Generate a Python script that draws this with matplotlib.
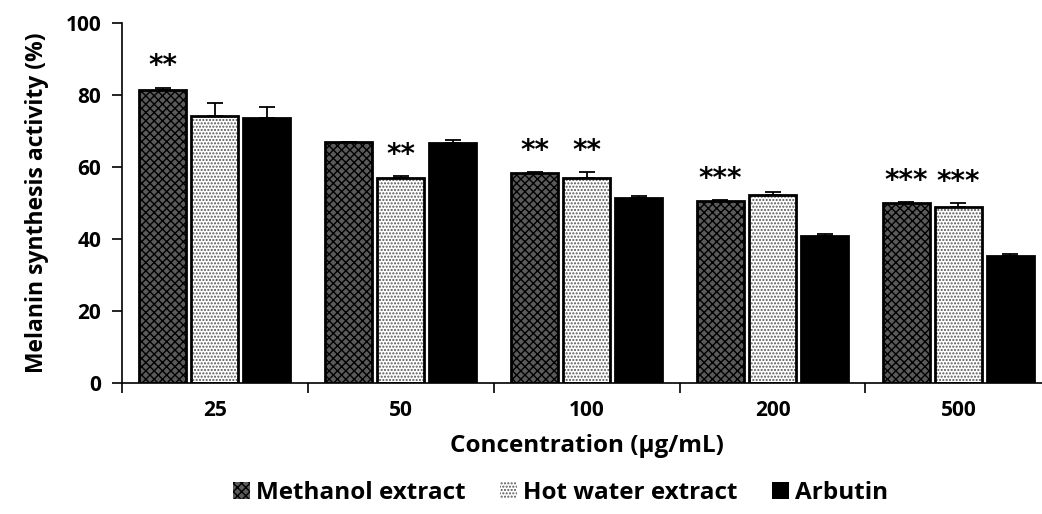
import matplotlib.pyplot as plt
import numpy as np

plt.rcParams['font.family'] = ['Open Sans', 'DejaVu Sans']
plt.rcParams['font.weight'] = 'bold'
plt.rcParams['hatch.linewidth'] = 1.0

concentrations = ['25', '50', '100', '200', '500']
series = ['Methanol extract', 'Hot water extract', 'Arbutin']
methanol = [81.5, 67.0, 58.3, 50.5, 49.9]
methanol_err = [0.6, 0.0, 0.2, 0.3, 0.3]
hot_water = [74.2, 57.0, 57.0, 52.2, 48.9]
hot_water_err = [3.6, 0.5, 1.5, 0.8, 1.1]
arbutin = [73.7, 66.7, 51.5, 40.7, 35.4]
arbutin_err = [2.9, 0.7, 0.5, 0.7, 0.3]
marks_methanol = ['**', '', '**', '***', '***']
marks_hot_water = ['', '**', '**', '', '***']

fig = plt.figure(figsize=(10.42, 5.14), dpi=100)
ax = fig.add_axes([0.117, 0.255, 0.892, 0.700])

x = np.arange(len(concentrations))
w = 0.253
off = 0.28
styles = [
    dict(facecolor='#5a5a5a', hatch='xxxx', edgecolor='black'),
    dict(facecolor='white', hatch='.....', edgecolor='#555555'),
    dict(facecolor='black', hatch=None, edgecolor='black'),
]
data = [(methanol, methanol_err), (hot_water, hot_water_err), (arbutin, arbutin_err)]
for i, ((vals, errs), st, name) in enumerate(zip(data, styles, series)):
    pos = x + (i - 1) * off
    ax.bar(pos, vals, w, color=st['facecolor'], hatch=st['hatch'],
           edgecolor=st['edgecolor'], linewidth=0, label=name, zorder=2)
    # black outline drawn separately
    ax.bar(pos, vals, w, fill=False, edgecolor='black', linewidth=2, zorder=3)
    ax.errorbar(pos, vals, yerr=[np.zeros(len(errs)), errs], fmt='none',
                ecolor='black', elinewidth=1.3, capsize=6, capthick=1.3, zorder=4)

for i in range(len(concentrations)):
    if marks_methanol[i]:
        ax.text(x[i] - off, methanol[i] + methanol_err[i] + 2.0, marks_methanol[i],
                ha='center', va='bottom', fontsize=20, fontweight='bold',
                fontfamily='DejaVu Sans')
    if marks_hot_water[i]:
        ax.text(x[i], hot_water[i] + hot_water_err[i] + 2.0, marks_hot_water[i],
                ha='center', va='bottom', fontsize=20, fontweight='bold',
                fontfamily='DejaVu Sans')

ax.set_xlim(-0.5, len(concentrations) - 0.5)
ax.set_ylim(0, 100)
ax.set_yticks(range(0, 101, 20))
ax.set_xticks(x)
ax.set_xticklabels(concentrations, fontsize=15, fontweight='bold')
ax.set_xticks(np.arange(-0.5, len(concentrations)), minor=True)
ax.tick_params(axis='x', which='major', length=0, pad=12)
ax.tick_params(axis='x', which='minor', length=7, width=1.2, direction='out')
ax.tick_params(axis='y', length=7, width=1.2, labelsize=15, pad=8)
for t in ax.get_yticklabels():
    t.set_fontweight('bold')
for s in ['top', 'right']:
    ax.spines[s].set_visible(False)
ax.spines['left'].set_linewidth(1.2)
ax.spines['bottom'].set_linewidth(1.2)

ax.set_ylabel('Melanin synthesis activity (%)', fontsize=16.5, fontweight='bold', labelpad=12)
ax.set_xlabel('Concentration (\u03bcg/mL)', fontsize=17.5, fontweight='bold', labelpad=10)

handles, labels = ax.get_legend_handles_labels()
fig.legend(handles, labels, loc='lower center', bbox_to_anchor=(0.538, -0.025), ncol=3,
           frameon=False, handlelength=0.7, handleheight=0.7,
           handletextpad=0.25, columnspacing=1.4, prop={'weight': 'bold', 'size': 17.5})

fig.savefig('out.png', dpi=100)
